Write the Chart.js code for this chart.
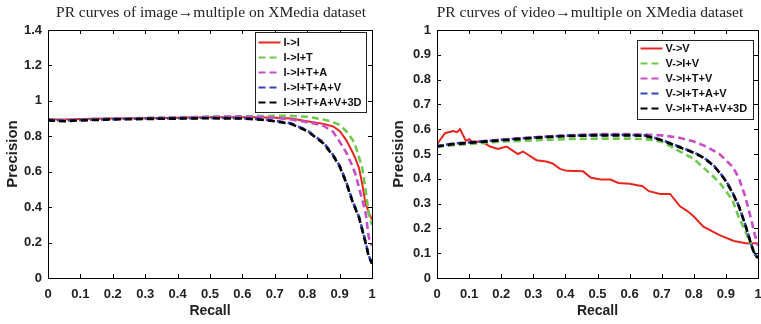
<!DOCTYPE html>
<html>
<head>
<meta charset="utf-8">
<script src="https://cdn.jsdelivr.net/npm/chart.js@4.4.1/dist/chart.umd.min.js"></script>
<style>
  body { margin: 0; background: #fff; }
  .box { position: absolute; top: 0; }
</style>
</head>
<body>
<div class="box" style="left:0"><canvas id="imgChart" width="380" height="324"></canvas></div>
<div class="box" style="left:380px"><canvas id="vidChart" width="381" height="324"></canvas></div>
<script>
// image -> multiple
var recallImg = [0, 0.05, 0.1, 0.2, 0.3, 0.4, 0.5, 0.6, 0.65, 0.7, 0.75, 0.8, 0.85, 0.88, 0.9, 0.92, 0.94, 0.95, 0.96, 0.97, 0.98, 0.99, 1.0];
var precImgI    = [0.895, 0.895, 0.898, 0.9, 0.902, 0.905, 0.907, 0.908, 0.908, 0.905, 0.9, 0.885, 0.87, 0.855, 0.83, 0.78, 0.71, 0.67, 0.62, 0.53, 0.42, 0.37, 0.33];
var precImgIT   = [0.895, 0.89, 0.895, 0.9, 0.903, 0.906, 0.91, 0.913, 0.914, 0.915, 0.915, 0.91, 0.895, 0.88, 0.865, 0.83, 0.78, 0.74, 0.68, 0.62, 0.5, 0.36, 0.3];
var precImgITA  = [0.895, 0.89, 0.895, 0.9, 0.903, 0.906, 0.91, 0.912, 0.91, 0.905, 0.895, 0.88, 0.86, 0.825, 0.77, 0.71, 0.63, 0.58, 0.51, 0.44, 0.37, 0.23, 0.18];
var precImgITAV = [0.893, 0.888, 0.892, 0.897, 0.9, 0.902, 0.904, 0.902, 0.897, 0.888, 0.873, 0.833, 0.765, 0.695, 0.635, 0.545, 0.435, 0.39, 0.345, 0.275, 0.205, 0.125, 0.085];
var precImgAll  = [0.89, 0.885, 0.89, 0.895, 0.898, 0.9, 0.902, 0.9, 0.895, 0.885, 0.87, 0.83, 0.76, 0.69, 0.63, 0.54, 0.43, 0.385, 0.34, 0.27, 0.2, 0.12, 0.08];
var labelsImg = ['I->I', 'I->I+T', 'I->I+T+A', 'I->I+T+A+V', 'I->I+T+A+V+3D'];

// video -> multiple
var recallVidV = [0, 0.025, 0.05, 0.062, 0.072, 0.09, 0.1, 0.11, 0.14, 0.165, 0.19, 0.217, 0.252, 0.268, 0.31, 0.34, 0.36, 0.383, 0.404, 0.455, 0.48, 0.51, 0.54, 0.565, 0.6, 0.64, 0.66, 0.695, 0.726, 0.757, 0.78, 0.8, 0.83, 0.88, 0.925, 0.965, 1.0];
var precVidV   = [0.54, 0.584, 0.593, 0.588, 0.6, 0.553, 0.56, 0.549, 0.55, 0.53, 0.52, 0.53, 0.5, 0.51, 0.475, 0.47, 0.462, 0.44, 0.432, 0.43, 0.404, 0.397, 0.397, 0.383, 0.38, 0.37, 0.35, 0.339, 0.339, 0.289, 0.27, 0.248, 0.207, 0.173, 0.149, 0.139, 0.14];
var recallVid = [0, 0.05, 0.1, 0.15, 0.2, 0.3, 0.4, 0.5, 0.6, 0.65, 0.7, 0.75, 0.8, 0.83, 0.86, 0.88, 0.9, 0.92, 0.94, 0.96, 0.98, 0.99, 1.0];
var precVidIV    = [0.53, 0.535, 0.54, 0.545, 0.55, 0.555, 0.56, 0.562, 0.562, 0.56, 0.55, 0.515, 0.48, 0.445, 0.41, 0.385, 0.35, 0.315, 0.245, 0.19, 0.13, 0.1, 0.08];
var precVidITV   = [0.53, 0.54, 0.545, 0.552, 0.558, 0.567, 0.575, 0.58, 0.58, 0.578, 0.575, 0.567, 0.55, 0.535, 0.515, 0.5, 0.475, 0.45, 0.405, 0.33, 0.23, 0.175, 0.13];
var precVidITAV  = [0.532, 0.542, 0.547, 0.552, 0.557, 0.567, 0.574, 0.577, 0.577, 0.575, 0.557, 0.532, 0.507, 0.487, 0.457, 0.427, 0.392, 0.347, 0.292, 0.217, 0.132, 0.095, 0.082];
var precVidAll   = [0.53, 0.54, 0.545, 0.55, 0.555, 0.565, 0.572, 0.575, 0.575, 0.573, 0.555, 0.53, 0.505, 0.485, 0.455, 0.425, 0.39, 0.345, 0.29, 0.215, 0.13, 0.093, 0.08];
var labelsVid = ['V->V', 'V->I+V', 'V->I+T+V', 'V->I+T+A+V', 'V->I+T+A+V+3D'];

var colors = ['#e8261f', '#6ccb4c', '#c94fc9', '#3548b8', '#000000'];
var dash = [7, 4];

function pts(xs, ys) {
  return xs.map(function (x, i) { return { x: x, y: ys[i] }; });
}

function makeSets(labels, series) {
  return series.map(function (s, i) {
    return {
      label: labels[i],
      data: pts(s[0], s[1]),
      borderColor: colors[i],
      borderWidth: i === 0 ? 2 : 2.6,
      borderDash: i === 0 ? [] : dash,
      borderDashOffset: i === 3 ? 2 : 0,
      pointRadius: 0,
      tension: 0,
      order: 5 - i
    };
  });
}

function tickText(v) {
  return String(Number(v.toFixed(1)));
}

// box, inward ticks, title and legend drawn over the plot
var decorPlugin = {
  id: 'decor',
  afterDraw: function (chart) {
    var o = chart.options.plugins.decor;
    var a = chart.chartArea, ctx = chart.ctx;
    var xs = chart.scales.x, ys = chart.scales.y;
    ctx.save();
    ctx.strokeStyle = '#000';
    ctx.lineWidth = 1;
    ctx.setLineDash([]);
    ctx.beginPath();
    xs.ticks.forEach(function (t) {
      var px = Math.round(xs.getPixelForValue(t.value)) + 0.5;
      ctx.moveTo(px, a.bottom); ctx.lineTo(px, a.bottom - 4);
      ctx.moveTo(px, a.top); ctx.lineTo(px, a.top + 4);
    });
    ys.ticks.forEach(function (t) {
      var py = Math.round(ys.getPixelForValue(t.value)) + 0.5;
      ctx.moveTo(a.left, py); ctx.lineTo(a.left + 4, py);
      ctx.moveTo(a.right, py); ctx.lineTo(a.right - 4, py);
    });
    ctx.stroke();
    ctx.strokeRect(Math.round(a.left) + 0.5, Math.round(a.top) + 0.5, Math.round(a.right - a.left), Math.round(a.bottom - a.top));

    // title
    ctx.fillStyle = '#222';
    ctx.font = '15.5px "Liberation Serif"';
    ctx.textAlign = 'center';
    ctx.textBaseline = 'middle';
    ctx.fillText(o.title, o.titleX, 13);

    // legend
    var bw = o.legendW, bh = o.legendH;
    var bx = Math.round(a.right - o.legendRight - bw) + 0.5;
    var by = Math.round(a.top + o.legendTop) + 0.5;
    ctx.fillStyle = '#fff';
    ctx.fillRect(bx, by, bw, bh);
    ctx.strokeStyle = '#222';
    ctx.strokeRect(bx, by, bw, bh);
    ctx.font = 'bold 11px "Liberation Sans"';
    ctx.textAlign = 'left';
    chart.data.datasets.forEach(function (d, i) {
      var ly = by + o.legendFirst + i * 15;
      ctx.strokeStyle = d.borderColor;
      ctx.lineWidth = 2;
      ctx.setLineDash(d.borderDash);
      ctx.beginPath();
      ctx.moveTo(bx + 3, ly);
      ctx.lineTo(bx + 25, ly);
      ctx.stroke();
      ctx.fillStyle = '#111';
      ctx.fillText(d.label, bx + 28, ly + 0.5);
    });
    ctx.restore();
  }
};

function makeChart(id, datasets, yMax, yWidth, yTitlePad, rightPad, decor) {
  return new Chart(document.getElementById(id), {
    type: 'line',
    data: { datasets: datasets },
    plugins: [decorPlugin],
    options: {
      responsive: false,
      animation: false,
      layout: { padding: { top: 30, right: rightPad, bottom: 0, left: 0 } },
      plugins: {
        legend: { display: false },
        tooltip: { enabled: false },
        decor: decor
      },
      scales: {
        x: {
          type: 'linear',
          min: 0, max: 1,
          grid: { display: false, drawTicks: false },
          border: { display: false },
          ticks: { stepSize: 0.1, padding: 9, color: '#222', callback: tickText, font: { family: 'Liberation Sans', size: 13, weight: 'bold' } },
          title: { display: true, text: 'Recall', color: '#222', padding: { top: 0, bottom: 4 }, font: { family: 'Liberation Sans', size: 14, weight: 'bold' } },
          afterFit: function (s) { s.height = 46; s.paddingLeft = 0; s.paddingRight = 0; }
        },
        y: {
          min: 0, max: yMax,
          grid: { display: false, drawTicks: false },
          border: { display: false },
          ticks: { stepSize: 0.1, padding: 6, color: '#222', callback: tickText, font: { family: 'Liberation Sans', size: 13, weight: 'bold' } },
          title: { display: true, text: 'Precision', color: '#222', padding: { top: yTitlePad, bottom: 0 }, font: { family: 'Liberation Sans', size: 15, weight: 'bold' } },
          afterFit: function (s) { s.width = yWidth; }
        }
      }
    }
  });
}

makeChart('imgChart', makeSets(labelsImg, [
  [recallImg, precImgI], [recallImg, precImgIT], [recallImg, precImgITA], [recallImg, precImgITAV], [recallImg, precImgAll]
]), 1.4, 48, 4, 8, {
  title: 'PR curves of image\u2192multiple on XMedia dataset', titleX: 211,
  legendW: 111, legendH: 80, legendRight: 6, legendTop: 2, legendFirst: 10
});

makeChart('vidChart', makeSets(labelsVid, [
  [recallVidV, precVidV], [recallVid, precVidIV], [recallVid, precVidITV], [recallVid, precVidITAV], [recallVid, precVidAll]
]), 1, 57, 10, 3, {
  title: 'PR curves of video\u2192multiple on XMedia dataset', titleX: 210,
  legendW: 116, legendH: 79, legendRight: 5, legendTop: 10, legendFirst: 8
});
</script>
</body>
</html>
